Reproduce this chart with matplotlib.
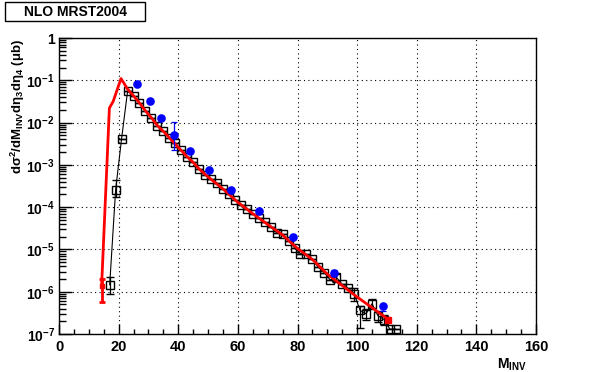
import math

import matplotlib
matplotlib.use('Agg')
import matplotlib.pyplot as plt
from matplotlib.patches import Rectangle
from matplotlib.ticker import LogLocator, FuncFormatter, MultipleLocator, NullFormatter

plt.rcParams['font.family'] = ['Liberation Sans', 'DejaVu Sans']
plt.rcParams['font.weight'] = 'bold'
plt.rcParams['mathtext.fontset'] = 'custom'
plt.rcParams['mathtext.rm'] = 'Liberation Sans:bold'
plt.rcParams['mathtext.bf'] = 'Liberation Sans:bold'
plt.rcParams['mathtext.it'] = 'Liberation Sans:bold'
plt.rcParams['mathtext.default'] = 'rm'

# NLO curve (red)
nlo_x = [14.3, 16.9, 18.2, 20.8, 23, 25, 27, 29, 31, 33, 35, 37, 39, 41, 43, 45, 47,
         50, 55, 60, 65, 70, 75, 80, 85, 90, 95, 100, 105, 110.5]
nlo_y = [1.4e-6, 2.2e-2, 3.2e-2, 0.11, 0.062, 0.043, 0.029, 0.019, 0.013, 8.5e-3, 6.2e-3,
         4.4e-3, 3.1e-3, 2.2e-3, 1.55e-3, 1.15e-3, 8.0e-4,
         5.2e-4, 2.7e-4, 1.3e-4, 7.0e-5, 3.9e-5, 2.2e-5, 1.05e-5, 5.8e-6, 2.6e-6, 1.4e-6,
         7.5e-7, 4.2e-7, 2.2e-7]
nlo_err_lo = 8.4e-7
nlo_err_hi = 6.0e-7

# simulated points (black open squares)
sim_x = [17, 19, 21, 23, 25, 27, 29, 31, 33, 35, 37, 39, 41, 43, 45, 47, 49, 51, 53, 55,
         57, 59, 61, 63, 65, 67, 69, 71, 73, 75, 77, 79, 81, 83, 85, 87, 89, 91, 93, 95,
         97, 99, 101, 103, 105, 107, 109, 111, 113]
sim_y = [1.46e-6, 2.6e-4, 4.2e-3, 0.055, 0.043, 0.029, 0.019, 0.013, 8.5e-3, 6.3e-3,
         4.4e-3, 3.2e-3, 2.2e-3, 1.5e-3, 1.17e-3, 7.9e-4, 5.8e-4, 4.6e-4, 3.7e-4, 2.7e-4,
         2.1e-4, 1.5e-4, 1.1e-4, 9.0e-5, 7.0e-5, 5.5e-5, 4.4e-5, 3.4e-5, 2.5e-5, 2.3e-5,
         1.6e-5, 1.1e-5, 7.9e-6, 7.6e-6, 5.8e-6, 3.8e-6, 2.8e-6, 1.9e-6, 2.2e-6, 1.5e-6,
         1.2e-6, 9.0e-7, 3.6e-7, 3.0e-7, 5.2e-7, 2.7e-7, 2.2e-7, 1.3e-7, 1.3e-7]
sim_err_lo = [6.0e-7, 9.0e-5, 0, 0, 0, 0, 0, 0, 0, 0, 0, 0, 0, 0, 0, 0, 0, 0, 0, 0,
              0, 0, 0, 0, 0, 0, 0, 0, 0, 0, 0, 0, 0, 0, 0, 0, 0, 0, 5e-7, 0,
              0, 3e-7, 2.2e-7, 0.8e-7, 1.4e-7, 0.8e-7, 0.6e-7, 0, 0]
sim_err_hi = [7.5e-7, 1.7e-4, 0, 0, 0, 0, 0, 0, 0, 0, 0, 0, 0, 0, 0, 0, 0, 0, 0, 0,
              0, 0, 0, 0, 0, 0, 0, 0, 0, 0, 0, 0, 0, 0, 0, 0, 0, 0, 4e-7, 0,
              0, 3e-7, 1.0e-7, 0.8e-7, 1.4e-7, 0.8e-7, 0.6e-7, 0, 0]

# data points (blue)
dat_x = [26.2, 30.4, 34.2, 38.6, 44.0, 50.3, 57.7, 67.1, 78.6, 92.1, 108.8]
dat_y = [0.081, 0.032, 0.013, 5.0e-3, 2.1e-3, 7.4e-4, 2.6e-4, 8.1e-5, 2.0e-5, 2.8e-6, 4.5e-7]
dat_err_lo = [0, 0, 0, 2.8e-3, 0, 0, 0, 0, 0, 0.4e-6, 1.0e-7]
dat_err_hi = [0, 0, 0, 5.5e-3, 0, 0, 0, 0, 0, 0.4e-6, 0.5e-7]

fig = plt.figure(figsize=(5.96, 3.72), dpi=100)
fig.patch.set_facecolor('white')
ax = fig.add_axes([59 / 596, 38 / 372, 477 / 596, 296 / 372])

ax.plot(sim_x, sim_y, color='black', lw=0.8, zorder=2)
ax.errorbar(sim_x, sim_y, yerr=[sim_err_lo, sim_err_hi], fmt='s', ms=5.5, mfc='none',
            mec='black', mew=1.0, ecolor='black', elinewidth=0.9, capsize=3, capthick=0.9,
            zorder=3)
ax.plot(nlo_x, nlo_y, color='red', lw=2.0, zorder=4)
ax.errorbar([nlo_x[0]], [nlo_y[0]], yerr=[[nlo_err_lo], [nlo_err_hi]], fmt='s', ms=2.5,
            color='red', elinewidth=2.0, capsize=2.5, capthick=2.0, zorder=4)
ax.plot([nlo_x[-1]], [nlo_y[-1]], 's', ms=4, color='red', zorder=4)
ax.errorbar(dat_x, dat_y, yerr=[dat_err_lo, dat_err_hi], fmt='o', ms=5.2, color='blue',
            elinewidth=0.9, capsize=2.5, capthick=0.9, zorder=5)

ax.set_yscale('log')
ax.set_xlim(0, 160)
ax.set_ylim(1e-7, 1)

ax.xaxis.set_major_locator(MultipleLocator(20))
ax.xaxis.set_minor_locator(MultipleLocator(5))
ax.yaxis.set_major_locator(LogLocator(base=10, numticks=20))
ax.yaxis.set_minor_locator(LogLocator(base=10, subs=[2, 3, 4, 5, 6, 7, 8, 9], numticks=20))
ax.yaxis.set_minor_formatter(NullFormatter())


def ylab(v, pos):
    if abs(v - 1) < 1e-9:
        return '1'
    e = int(round(math.log10(v)))
    return r'$10^{%d}$' % e


ax.yaxis.set_major_formatter(FuncFormatter(ylab))

ax.tick_params(axis='both', which='both', direction='in', top=False, right=False,
               labelsize=10.5, colors='black')
ax.tick_params(axis='y', which='major', labelsize=10)
ax.tick_params(axis='x', which='major', length=7, width=1, pad=4)
ax.tick_params(axis='x', which='minor', length=3.5, width=1)
ax.tick_params(axis='y', which='major', length=9, width=1, pad=3)
ax.tick_params(axis='y', which='minor', length=5, width=1)
for lbl in ax.get_xticklabels() + ax.get_yticklabels():
    lbl.set_fontweight('bold')

ax.grid(True, which='major', color='black', linestyle=(0, (1, 3)), lw=0.8)
for s in ax.spines.values():
    s.set_linewidth(1.0)

# axis titles placed like ROOT does
fig.text(527 / 596, (372 - 369) / 372, r'M$_{INV}$', ha='right', va='baseline',
         fontsize=10, fontweight='bold')
fig.text(9 / 596, (372 - 39) / 372,
         r'd$\sigma^{2}$/dM$_{INV}$d$\eta_{3}$d$\eta_{4}$ ($\mu$b)',
         rotation=90, ha='left', va='top', fontsize=9.5, fontweight='bold')

fig.patches.append(Rectangle((5 / 596, (372 - 21) / 372), 140 / 596, 19 / 372,
                             transform=fig.transFigure, fill=True, facecolor='white',
                             edgecolor='black', lw=1.0))
fig.text(75 / 596, (372 - 11.5) / 372, 'NLO MRST2004', ha='center', va='center',
         fontsize=10, fontweight='bold')

fig.savefig('out.png', dpi=100, facecolor='white')
